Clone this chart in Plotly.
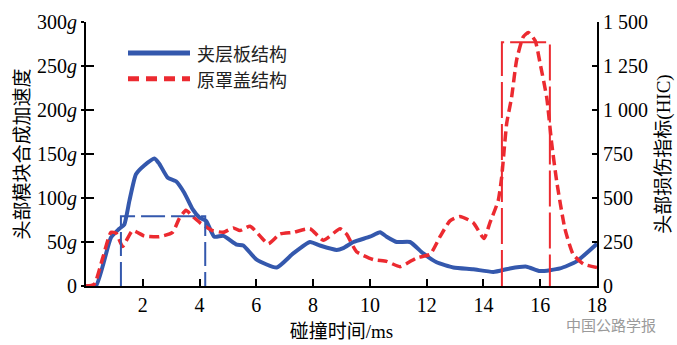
import plotly.graph_objects as go

# Time axis (ms) and head-form resultant acceleration (g) for each hood design
t_sandwich = [0, 0.35, 0.88, 1.17, 1.35, 1.53, 1.76, 2.05, 2.41, 2.58, 2.88, 3.17, 3.46,
              3.76, 3.99, 4.23, 4.52, 4.84, 5.31, 5.54, 6.01, 6.72, 7.3, 7.89, 8.24, 8.83,
              9.06, 9.42, 10.0, 10.36, 10.59, 10.94, 11.41, 11.88, 12.35, 12.94, 13.64,
              14.35, 14.93, 15.52, 15.99, 16.7, 17.28, 18.0]
acc_sandwich = [0, 0, 55, 65, 70, 97, 127, 137, 145, 139, 123, 119, 106,
                87, 78, 74, 56, 57, 47, 46, 30, 21, 37, 50, 46, 41,
                43, 50, 56, 61, 56, 50, 50, 37, 27, 21, 19,
                16, 20, 22, 17, 20, 28, 48]

t_original = [0, 0.29, 0.59, 0.88, 1.06, 1.29, 1.64, 2.05, 2.58, 3.05, 3.29, 3.52, 3.76,
              4.05, 4.46, 4.84, 5.19, 5.42, 5.78, 6.42, 6.83, 7.3, 7.89, 8.36, 8.95, 9.18,
              9.53, 10.12, 10.59, 11.06, 11.65, 12.12, 12.47, 12.82, 13.17, 13.64, 14.02,
              14.23, 14.52, 14.64, 14.82, 14.99, 15.17, 15.4, 15.58, 15.82, 15.99, 16.23,
              16.4, 16.58, 16.87, 17.16, 17.52, 18.0]
acc_original = [0, 2, 32, 61, 60, 45, 63, 57, 56, 61, 77, 86, 79,
                71, 63, 61, 66, 63, 68, 48, 59, 61, 65, 52, 65, 59,
                39, 30, 28, 22, 32, 36, 56, 74, 79, 72, 54,
                72, 97, 123, 185, 214, 257, 283, 288, 279, 254, 214,
                163, 119, 65, 36, 25, 21]

# HIC evaluation windows (start, end in ms) and HIC values
hic_window_sandwich = [1.23, 4.2]
hic_sandwich = 397
hic_window_original = [14.65, 16.34]
hic_original = 1385

series_names = ["夹层板结构", "原罩盖结构"]
left_ticks = [0, 50, 100, 150, 200, 250, 300]
left_ticktext = ["0", "50<i>g</i>", "100<i>g</i>", "150<i>g</i>", "200<i>g</i>",
                 "250<i>g</i>", "300<i>g</i>"]
right_ticks = [0, 250, 500, 750, 1000, 1250, 1500]
right_ticktext = ["0", "250", "500", "750", "1 000", "1 250", "1 500"]
x_ticks = [2, 4, 6, 8, 10, 12, 14, 16, 18]

BLUE = "#3458ad"
RED = "#ec2a30"
SERIF = "Liberation Serif, Times New Roman, serif"
CJK = "Noto Sans CJK SC, sans-serif"


def serif(s):
    return f"<span style='font-family:{SERIF}'>{s}</span>"


fig = go.Figure()

fig.add_trace(go.Scatter(
    x=t_sandwich, y=acc_sandwich, mode="lines", name=series_names[0],
    line=dict(color=BLUE, width=4, shape="spline", smoothing=0.5),
    showlegend=False))
fig.add_trace(go.Scatter(
    x=t_original, y=acc_original, mode="lines", name=series_names[1],
    line=dict(color=RED, width=3.5, dash="10px,5px", shape="spline", smoothing=0.5),
    showlegend=False))


def hic_box(window, value):
    return [window[0], window[0], window[1], window[1]], [0, value, value, 0]


bx, by = hic_box(hic_window_sandwich, hic_sandwich)
fig.add_trace(go.Scatter(x=bx, y=by, mode="lines", yaxis="y2", showlegend=False,
                         line=dict(color=BLUE, width=2, dash="24px,6px")))
rx, ry = hic_box(hic_window_original, hic_original)
fig.add_trace(go.Scatter(x=rx, y=ry, mode="lines", yaxis="y2", showlegend=False,
                         line=dict(color=RED, width=2, dash="36px,6px")))

# legend drawn as samples + labels inside the plot
legend_rows = [(0.883, dict(color=BLUE, width=5)),
               (0.785, dict(color=RED, width=5, dash="11px,7px"))]
for (yy, ln), name in zip(legend_rows, series_names):
    fig.add_shape(type="line", xref="paper", yref="paper",
                  x0=(128 - 86) / 511, x1=(190 - 86) / 511, y0=yy, y1=yy, line=ln)
    fig.add_annotation(xref="paper", yref="paper", x=(195 - 86) / 511, y=yy,
                       text=name, showarrow=False, xanchor="left", yanchor="middle",
                       font=dict(family=CJK, size=18, color="#222"))

axis_common = dict(showline=True, linecolor="black", linewidth=2, showgrid=False,
                   zeroline=False, tickcolor="black", tickwidth=2)

fig.update_layout(
    width=677, height=345,
    margin=dict(l=86, r=80, t=11, b=59),
    paper_bgcolor="white", plot_bgcolor="white",
    xaxis=dict(range=[0, 18], tickvals=x_ticks, ticks="inside", ticklen=7,
               tickfont=dict(family=SERIF, size=20, color="black"),
               title=dict(text="碰撞时间" + serif("/ms"),
                          font=dict(family=CJK, size=19, color="black"), standoff=5),
               **axis_common),
    yaxis=dict(range=[0, 300], tickvals=left_ticks, ticktext=left_ticktext,
               ticks="outside", ticklen=3,
               tickfont=dict(family=SERIF, size=20, color="black"),
               title=dict(text="头部模块合成加速度", font=dict(family=CJK, size=19, color="black"),
                          standoff=2),
               **axis_common),
    yaxis2=dict(range=[0, 1500], tickvals=right_ticks, ticktext=right_ticktext,
                overlaying="y", side="right", ticks="inside", ticklen=5,
                tickfont=dict(family=SERIF, size=20, color="black"),
                title=dict(text="头部损伤指标" + serif("(HIC)"),
                           font=dict(family=CJK, size=19, color="black"), standoff=4),
                **axis_common),
    yaxis3=dict(range=[0, 300], tickvals=left_ticks, overlaying="y", side="left",
                ticks="inside", ticklen=8, showticklabels=False, showline=False,
                showgrid=False, zeroline=False, tickcolor="black", tickwidth=2),
)

# tie an invisible trace to y3 so its inner tick marks render
fig.add_trace(go.Scatter(x=[None], y=[None], yaxis="y3", showlegend=False,
                         hoverinfo="skip"))

fig.add_annotation(xref="paper", yref="paper", x=(564 - 86) / 511, y=(286 - 326) / 275,
                   text="中国公路学报", showarrow=False, xanchor="left", yanchor="middle",
                   font=dict(family=CJK, size=15, color="#9a9a9a"))

fig.write_html("out.html")
